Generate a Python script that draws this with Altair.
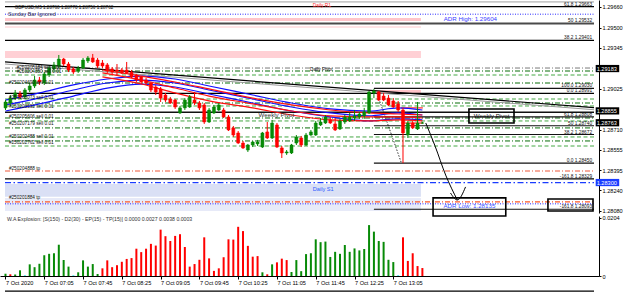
import altair as alt
import pandas as pd

FONT = "Liberation Sans"
GREEN = "#078a07"
RED = "#ff0000"
CYAN = "#00e0e0"

# ---------------- axes / ranges ----------------
X_MIN, X_MAX = -0.1, 121.4          # bar index (bar 0 = 7 Oct 06:25, M5)
BAND_END = 85.7
FIB_START = 76.0
PRICE_MIN, PRICE_MAX = 1.28064, 1.29714
PRICE_TICKS = [1.29660, 1.29500, 1.29345, 1.29025, 1.28710, 1.28555, 1.28395, 1.28240, 1.28080]
TIME_LABEL_BARS = [0, 8, 16, 24, 32, 40, 48, 56, 64, 72, 80]
TIME_LABELS = ["7 Oct 2020", "7 Oct 07:05", "7 Oct 07:45", "7 Oct 08:25", "7 Oct 09:05",
               "7 Oct 09:45", "7 Oct 10:25", "7 Oct 11:05", "7 Oct 11:45", "7 Oct 12:25", "7 Oct 13:05"]
IND_MAX = 0.0211
IND_TICKS = [0, 0.0204]

# ---------------- candles ----------------
OPEN = [1.28878, 1.28916, 1.28954, 1.28986, 1.28963, 1.29017, 1.29048, 1.29094, 1.29071, 1.29133,
        1.29180, 1.29203, 1.29257, 1.29218, 1.29180, 1.29164, 1.29187, 1.29242, 1.29265, 1.29249,
        1.29226, 1.29211, 1.29180, 1.29172, 1.29172, 1.29172, 1.29156, 1.29133, 1.29118, 1.29094,
        1.29071, 1.29040, 1.29025, 1.28978, 1.28947, 1.28939, 1.28839, 1.28878, 1.28885, 1.28939,
        1.28916, 1.28901, 1.28769, 1.28839, 1.28862, 1.28862, 1.28808, 1.28723, 1.28684, 1.28606,
        1.28552, 1.28591, 1.28599, 1.28575, 1.28692, 1.28645, 1.28746, 1.28568, 1.28529, 1.28529,
        1.28606, 1.28645, 1.28591, 1.28668, 1.28668, 1.28746, 1.28761, 1.28785, 1.28754, 1.28715,
        1.28769, 1.28777, 1.28800, 1.28808, 1.28816, 1.28839, 1.28994, 1.29001, 1.28970, 1.28954,
        1.28932, 1.28909, 1.28862, 1.28668, 1.28761, 1.28715, 1.28760]
HIGH = [1.28939, 1.28978, 1.29017, 1.29009, 1.29032, 1.29071, 1.29125, 1.29118, 1.29156, 1.29203,
        1.29234, 1.29288, 1.29265, 1.29234, 1.29195, 1.29203, 1.29265, 1.29280, 1.29296, 1.29265,
        1.29249, 1.29226, 1.29195, 1.29218, 1.29187, 1.29234, 1.29172, 1.29141, 1.29125, 1.29110,
        1.29079, 1.29056, 1.29040, 1.28994, 1.28963, 1.28947, 1.28893, 1.28954, 1.28978, 1.29001,
        1.28932, 1.28916, 1.28878, 1.28901, 1.28916, 1.28878, 1.28823, 1.28738, 1.28699, 1.28622,
        1.28599, 1.28622, 1.28630, 1.28692, 1.28769, 1.28785, 1.28761, 1.28583, 1.28552, 1.28599,
        1.28668, 1.28661, 1.28684, 1.28707, 1.28777, 1.28800, 1.28823, 1.28808, 1.28800, 1.28793,
        1.28823, 1.28839, 1.28862, 1.28847, 1.28878, 1.29009, 1.29025, 1.29009, 1.28994, 1.28978,
        1.28954, 1.28932, 1.28878, 1.28777, 1.28777, 1.28924, 1.28770]
LOW = [1.28862, 1.28893, 1.28939, 1.28947, 1.28947, 1.29001, 1.29032, 1.29056, 1.29056, 1.29118,
       1.29156, 1.29187, 1.29203, 1.29156, 1.29141, 1.29149, 1.29180, 1.29226, 1.29226, 1.29187,
       1.29187, 1.29149, 1.29141, 1.29133, 1.29141, 1.29141, 1.29110, 1.29079, 1.29063, 1.29056,
       1.29001, 1.28978, 1.28924, 1.28924, 1.28909, 1.28870, 1.28831, 1.28862, 1.28878, 1.28901,
       1.28862, 1.28754, 1.28761, 1.28831, 1.28854, 1.28800, 1.28699, 1.28653, 1.28599, 1.28560,
       1.28537, 1.28575, 1.28583, 1.28568, 1.28637, 1.28637, 1.28568, 1.28490, 1.28514, 1.28521,
       1.28591, 1.28575, 1.28583, 1.28661, 1.28661, 1.28738, 1.28754, 1.28754, 1.28699, 1.28707,
       1.28754, 1.28769, 1.28777, 1.28793, 1.28793, 1.28831, 1.28954, 1.28932, 1.28932, 1.28893,
       1.28878, 1.28847, 1.28450, 1.28645, 1.28715, 1.28707, 1.28756]
CLOSE = [1.28924, 1.28954, 1.28994, 1.28963, 1.29017, 1.29048, 1.29094, 1.29079, 1.29141, 1.29187,
         1.29211, 1.29257, 1.29218, 1.29172, 1.29156, 1.29187, 1.29249, 1.29265, 1.29234, 1.29203,
         1.29203, 1.29164, 1.29156, 1.29164, 1.29149, 1.29149, 1.29118, 1.29094, 1.29079, 1.29071,
         1.29017, 1.29001, 1.28954, 1.28939, 1.28916, 1.28885, 1.28878, 1.28939, 1.28963, 1.28916,
         1.28878, 1.28769, 1.28862, 1.28885, 1.28901, 1.28808, 1.28707, 1.28668, 1.28606, 1.28568,
         1.28591, 1.28614, 1.28614, 1.28684, 1.28645, 1.28761, 1.28575, 1.28529, 1.28537, 1.28591,
         1.28653, 1.28591, 1.28668, 1.28692, 1.28761, 1.28769, 1.28808, 1.28761, 1.28707, 1.28777,
         1.28808, 1.28808, 1.28816, 1.28831, 1.28847, 1.29001, 1.29009, 1.28939, 1.28939, 1.28901,
         1.28885, 1.28862, 1.28684, 1.28761, 1.28723, 1.28761, 1.28762]

# ---------------- moving averages (bar index, price) ----------------
BLUE_X = [0, 7, 14, 21, 28, 35, 42, 51, 59, 67, 75, 81, 86]
BLUE_1 = [1.28939, 1.28994, 1.29056, 1.29102, 1.29125, 1.29102, 1.29048, 1.28978, 1.28916, 1.28870, 1.28854, 1.28878, 1.28862]
BLUE_2 = [1.28901, 1.28954, 1.29017, 1.29071, 1.29094, 1.29071, 1.29017, 1.28947, 1.28885, 1.28839, 1.28816, 1.28839, 1.28823]
BLUE_3 = [1.28854, 1.28909, 1.28970, 1.29032, 1.29063, 1.29040, 1.28986, 1.28916, 1.28854, 1.28808, 1.28777, 1.28793, 1.28785]
RED_X = [20, 28, 35, 42, 51, 59, 67, 75, 81, 86]
RED_1 = [1.29172, 1.29125, 1.29079, 1.29025, 1.28954, 1.28901, 1.28862, 1.28839, 1.28831, 1.28823]
RED_2 = [1.29149, 1.29094, 1.29032, 1.28970, 1.28909, 1.28854, 1.28816, 1.28808, 1.28808, 1.28800]
RED_3 = [1.29118, 1.29063, 1.28994, 1.28932, 1.28878, 1.28823, 1.28785, 1.28777, 1.28785, 1.28777]

# ---------------- indicator ----------------
IND_VALUES = [0.0008, 0.0006, 0.0005, 0.0020, 0.0002, 0.0041, 0.0031, 0.0043, 0.0073, 0.0078,
              0.0080, 0.0110, 0.0056, 0.0033, 0.0002, 0.0013, 0.0055, 0.0033, 0.0042, 0.0007,
              0.0027, 0.0055, 0.0031, 0.0038, 0.0050, 0.0060, 0.0063, 0.0096, 0.0084, 0.0096,
              0.0113, 0.0107, 0.0163, 0.0140, 0.0123, 0.0141, 0.0147, 0.0102, 0.0033, 0.0042,
              0.0057, 0.0136, 0.0062, 0.0018, 0.0027, 0.0066, 0.0129, 0.0128, 0.0173, 0.0158,
              0.0106, 0.0068, 0.0070, 0.0013, 0.0006, 0.0041, 0.0048, 0.0061, 0.0056, 0.0014,
              0.0056, 0.0017, 0.0077, 0.0080, 0.0129, 0.0119, 0.0121, 0.0067, 0.0085, 0.0078,
              0.0109, 0.0085, 0.0097, 0.0090, 0.0095, 0.0179, 0.0156, 0.0123, 0.0120, 0.0057,
              0.0049, 0.0002, 0.0136, 0.0053, 0.0080, 0.0035, 0.0028]
IND_SIGN = list("grggcgggggggggcggggg" + "rrrrrrrrrrrrrrrrrrrr" + "rrrrrrrrrrrrrgrgrrrg" +
                "ggggggggggggggggggggg" + "c" + "rrrrr")

# ---------------- horizontal levels ----------------
TOP_GRAY = [1.29699]
BLACK_FULL = [1.29663, 1.29401, 1.28991, 1.28329]
DARK_THICK = [1.29532]
WEEKLY_PIVOT = [1.28845]
FIB2_LEVELS = [1.29030, 1.28808, 1.28740, 1.28672, 1.28450, 1.28093]
ADR_LEVELS = [1.29604, 1.28135]
PIVOT_GRAY = [1.29187]
GREEN_DASHDOT = [1.29164, 1.29071, 1.28916, 1.28800, 1.28723, 1.28622]
GREEN_DASH = [1.29133, 1.28947, 1.28893, 1.28777, 1.28653, 1.28583]
SALMON = [1.28390]
ORANGE = [1.28150]
S1_BLUE = [1.28300]
RED_SHORT = [1.28878, 1.28761]

BAND_TOP = [1.29575, 1.29513, 1.29319, 1.29017, 1.28289, 1.28181]
BAND_BOTTOM = [1.29552, 1.29497, 1.29265, 1.28994, 1.28189, 1.28080]
BAND_X0 = [X_MIN, X_MIN, X_MIN, FIB_START, X_MIN, X_MIN]
BAND_COLOR = ["#ffc4c9", "#ffe3e5", "#ffd0d5", "#ffc4c9", "#dae0f5", "#e7eaf8"]

TREND_X0 = [X_MIN, X_MIN, 76.6]
TREND_Y0 = [1.29234, 1.29218, 1.28994]
TREND_X1 = [X_MAX, X_MAX, 81.6]
TREND_Y1 = [1.28880, 1.28864, 1.28459]

ARROW_X = [86.7, 88.6, 90.8, 93.2]
ARROW_Y = [1.28761, 1.28584, 1.28358, 1.28165]
HEAD_X = [91.8, 93.2, 94.9]
HEAD_Y = [1.28219, 1.28165, 1.28266]

# ---------------- texts ----------------
ORDER_LABELS = ["#250205184 sell 0.01", "#250204350 sell 0.01", "#250204690 sell 0.01",
                "#250205073 sell 0.01", "#250203592 sell 0.01", "#250205606 sell 0.01",
                "#250207179 sell 0.01", "#250202488 sell 0.01", "#250202762 sell 0.01",
                "#250204888 tp", "#250201884 tp"]
ORDER_X = [2.3, 2.3, 0.7, 0.7, 0.7, 0.7, 0.7, 0.7, 0.7, 0.7, 0.7]
ORDER_Y = [1.29190, 1.29158, 1.29073, 1.28956, 1.28887, 1.28810, 1.28756, 1.28655, 1.28608, 1.28407, 1.28183]

FIB_TEXT = ["61.8 1.29663", "50 1.29532", "38.2 1.29401", "100.0 1.29030", "0.0 1.28991",
            "61.8 1.28808", "50 1.28740", "38.2 1.28672", "0.0 1.28450", "-161.8 1.28329", "-161.8 1.28093"]
FIB_Y = [1.29663, 1.29532, 1.29401, 1.29030, 1.28991, 1.28808, 1.28740, 1.28672, 1.28450, 1.28329, 1.28093]

AXBOX_PRICE = [1.29183, 1.28855, 1.28763, 1.28300]
AXBOX_TEXT = ["1.29183", "1.28855", "1.28763", "1.28300"]
AXBOX_FILL = ["#000000", "#000000", "#000000", "#1a3cff"]

BOX_X0 = [95.6, 88.2, 111.9]
BOX_X1 = [104.9, 103.2, 121.2]
BOX_Y0 = [1.28870, 1.28181, 1.28173]
BOX_Y1 = [1.28761, 1.28041, 1.28080]

IND_TITLE = "W.A Explosion: [S(150) - D2(30) - EP(15) - TP(15)] 0.0000 0.0027 0.0038 0.0003"

# ================= build =================
XS = alt.Scale(domain=[X_MIN, X_MAX], nice=False, zero=False)
YS = alt.Scale(domain=[PRICE_MIN, PRICE_MAX], nice=False, zero=False)
YAX = alt.Axis(orient="right", values=PRICE_TICKS, format=".5f", title=None, grid=False,
               labelFont=FONT, labelFontSize=5.6, labelColor="#000000", tickColor="#000000",
               tickSize=2, domainColor="#000000", labelPadding=1, labelOverlap=False,
               labelFlush=False, labelBound=False)


def X(f="x"):
    return alt.X(f"{f}:Q", scale=XS, axis=None)


def Y(f="y"):
    return alt.Y(f"{f}:Q", scale=YS, axis=YAX)


def hrule(levels, x0, x1, color, width=1.0, dash=None):
    d = pd.DataFrame({"y": levels, "x": [x0] * len(levels), "x2": [x1] * len(levels)})
    kw = dict(color=color, strokeWidth=width)
    if dash:
        kw["strokeDash"] = dash
    return alt.Chart(d).mark_rule(**kw).encode(x=X("x"), x2="x2", y=Y("y"))


def texts(xs, ys, labels, color, size, align="left", baseline="middle"):
    d = pd.DataFrame({"x": xs, "y": ys, "t": labels})
    return alt.Chart(d).mark_text(align=align, baseline=baseline, color=color, fontSize=size,
                                  font=FONT).encode(x=X("x"), y=Y("y"), text="t:N")


layers = []

bands = pd.DataFrame({"x": BAND_X0, "x2": [BAND_END] * len(BAND_X0), "y": BAND_TOP,
                      "y2": BAND_BOTTOM, "c": BAND_COLOR})
layers.append(alt.Chart(bands).mark_rect().encode(
    x=X("x"), x2="x2", y=Y("y"), y2="y2", fill=alt.Fill("c:N", scale=None)))

layers += [
    hrule(TOP_GRAY, X_MIN, X_MAX, "#a0a0a0", 1),
    hrule(ADR_LEVELS, X_MIN, X_MAX, "#2a2aff", 1, [1, 1.5]),
    hrule(PIVOT_GRAY, X_MIN, X_MAX, "#7a7a7a", 1, [5, 2, 1, 2]),
    hrule(GREEN_DASHDOT, X_MIN, X_MAX, "#0a6e0a", 1, [5, 2, 1, 2]),
    hrule(GREEN_DASH, X_MIN, X_MAX, "#45a845", 1, [4, 2.5]),
    hrule(SALMON, X_MIN, X_MAX, "#f4907c", 1.5, [5, 2, 1, 2]),
    hrule(ORANGE, X_MIN, X_MAX, "#ff5a28", 1.2, [5, 2, 1, 2]),
    hrule(S1_BLUE, X_MIN, X_MAX, "#1a3cff", 1.2, [6, 2.5, 1.5, 2.5]),
    hrule(BLACK_FULL, X_MIN, X_MAX, "#000000", 1.2),
    hrule(DARK_THICK, X_MIN, X_MAX, "#4a4a4a", 1.8),
    hrule(WEEKLY_PIVOT, X_MIN, X_MAX, "#111111", 1.5),
    hrule(FIB2_LEVELS, FIB_START, X_MAX, "#111111", 1.2),
    hrule(RED_SHORT, 81.6, 86.1, RED, 1),
]

trend = pd.DataFrame({"x": TREND_X0, "y": TREND_Y0, "x2": TREND_X1, "y2": TREND_Y1,
                      "c": ["#000000", "#9a9a9a", "#000000"], "w": [1.2, 1.0, 0.8]})
layers.append(alt.Chart(trend.iloc[:2]).mark_rule().encode(
    x=X("x"), y=Y("y"), x2="x2", y2="y2", color=alt.Color("c:N", scale=None),
    strokeWidth=alt.StrokeWidth("w:Q", scale=None)))
layers.append(alt.Chart(trend.iloc[2:]).mark_rule(color="#000000", strokeWidth=0.8,
                                                  strokeDash=[1.5, 1.5]).encode(
    x=X("x"), y=Y("y"), x2="x2", y2="y2"))

# moving averages
ma_rows = []
for name, xs, ys, col in [("b1", BLUE_X, BLUE_1, "#1010ff"), ("b2", BLUE_X, BLUE_2, "#1010ff"),
                          ("b3", BLUE_X, BLUE_3, "#1010ff"), ("r1", RED_X, RED_1, "#ff1010"),
                          ("r2", RED_X, RED_2, "#ff1010"), ("r3", RED_X, RED_3, "#ff1010")]:
    for xv, yv in zip(xs, ys):
        ma_rows.append({"x": xv, "y": yv, "s": name, "c": col})
ma = pd.DataFrame(ma_rows)
layers.append(alt.Chart(ma).mark_line(strokeWidth=1.2, interpolate="monotone").encode(
    x=X("x"), y=Y("y"), detail="s:N", order="x:Q", color=alt.Color("c:N", scale=None)))

# candles
cd = pd.DataFrame({"x": list(range(len(OPEN))), "o": OPEN, "h": HIGH, "l": LOW, "cl": CLOSE})
cd["c"] = [GREEN if c >= o else RED for o, c in zip(OPEN, CLOSE)]
layers.append(alt.Chart(cd).mark_rule(strokeWidth=1).encode(
    x=X("x"), y=Y("l"), y2="h", color=alt.Color("c:N", scale=None)))
layers.append(alt.Chart(cd).mark_bar(size=3, strokeWidth=0.5).encode(
    x=X("x"), y=Y("o"), y2="cl", fill=alt.Fill("c:N", scale=None),
    stroke=alt.Stroke("c:N", scale=None)))

# arrow
arr = pd.DataFrame({"x": ARROW_X + HEAD_X, "y": ARROW_Y + HEAD_Y,
                    "s": ["a"] * len(ARROW_X) + ["h"] * len(HEAD_X),
                    "k": list(range(len(ARROW_X))) + list(range(len(HEAD_X)))})
layers.append(alt.Chart(arr).mark_line(color="#000000", strokeWidth=1, interpolate="monotone").encode(
    x=X("x"), y=Y("y"), detail="s:N", order="k:Q"))

# boxes
boxes = pd.DataFrame({"x": BOX_X0, "x2": BOX_X1, "y": BOX_Y0, "y2": BOX_Y1})
layers.append(alt.Chart(boxes).mark_rect(fill="#ffffff", fillOpacity=0, stroke="#000000",
                                         strokeWidth=1.6).encode(
    x=X("x"), x2="x2", y=Y("y"), y2="y2"))

# texts
layers += [
    texts([1.9], [1.29650], ["GBPUSD,M5  1.28760 1.28770 1.28756 1.28762"], "#111111", 4.6),
    texts([0.5], [1.29604], ["Sunday Bar Ignored"], "#333355", 5.4),
    texts([63.4], [1.29665], ["Daily R1"], "#ff3030", 4.8),
    texts([90.4], [1.29570], ["ADR High: 1.29604"], "#3a3aff", 6.2),
    texts([62.8], [1.29172], ["Daily Pivot"], "#111111", 4.8),
    texts([52.2], [1.28823], ["Weekly Pivot"], "#333333", 6.2),
    texts([96.6], [1.28815], ["Weekly Pivot"], "#111111", 6.2),
    texts([63.4], [1.28250], ["Daily S1"], "#2a5cff", 5.6),
    texts([95.7], [1.28118], ["ADR Low: 1.28135"], "#3a50ff", 6.2, align="center"),
    texts(ORDER_X, ORDER_Y, ORDER_LABELS, "#111111", 4.7),
    texts([121.0] * len(FIB_Y), FIB_Y, FIB_TEXT, "#111111", 4.8, align="right", baseline="bottom"),
]

axb = pd.DataFrame({"p": AXBOX_PRICE, "t": AXBOX_TEXT, "c": AXBOX_FILL,
                    "x": [121.75] * 4, "x2": [126.6] * 4})
axb["y"] = axb["p"] + 0.00028
axb["y2"] = axb["p"] - 0.00028
layers.append(alt.Chart(axb).mark_rect().encode(
    x=X("x"), x2="x2", y=Y("y"), y2="y2", fill=alt.Fill("c:N", scale=None)))
layers.append(alt.Chart(axb).mark_text(align="left", baseline="middle", color="#ffffff",
                                       fontSize=5.6, font=FONT, dx=1).encode(
    x=X("x"), y=Y("p"), text="t:N"))

main = alt.layer(*layers).properties(width=599, height=213)

# ---------------- indicator pane ----------------
IS = alt.Scale(domain=[0, IND_MAX], nice=False, zero=False)
label_arr = "[" + ",".join("'" + t + "'" for t in TIME_LABELS) + "]"
XAX = alt.Axis(values=TIME_LABEL_BARS, labelExpr=label_arr + "[round(datum.value/8)]",
               labelAlign="left", labelFont=FONT, labelFontSize=5.6, labelColor="#000000",
               tickColor="#000000", tickSize=3, domainColor="#000000", grid=False, title=None,
               labelPadding=1, labelOverlap=False, labelFlush=False, labelBound=False, labelBaseline="top")
IAX = alt.Axis(orient="right", values=IND_TICKS,
               labelExpr="datum.value == 0 ? '0' : '0.0204'", title=None, grid=False,
               labelFont=FONT, labelFontSize=5.6, labelColor="#000000", tickColor="#000000",
               tickSize=2, domainColor="#000000", labelPadding=1, labelOverlap=False,
               labelFlush=False, labelBound=False)


def IX(f="x"):
    return alt.X(f"{f}:Q", scale=XS, axis=XAX)


def IY(f="y"):
    return alt.Y(f"{f}:Q", scale=IS, axis=IAX)


cmap = {"g": GREEN, "r": RED, "c": CYAN}
ind = pd.DataFrame({"x": list(range(len(IND_VALUES))), "y": IND_VALUES,
                    "c": [cmap[s] for s in IND_SIGN]})
ind_bars = alt.Chart(ind).mark_bar(size=2).encode(
    x=IX("x"), y=IY("y"), fill=alt.Fill("c:N", scale=None))
ind_title = alt.Chart(pd.DataFrame({"x": [0.3], "y": [0.0200], "t": [IND_TITLE]})).mark_text(
    align="left", baseline="middle", color="#333333", fontSize=5.2, font=FONT).encode(
    x=IX("x"), y=IY("y"), text="t:N")
tab_line = alt.Chart(pd.DataFrame({"x": [X_MIN], "x2": [X_MAX], "y": [-0.0053]})).mark_rule(
    color="#000000", strokeWidth=1.2).encode(x=IX("x"), x2="x2", y=IY("y"))

indicator = alt.layer(ind_bars, ind_title, tab_line).properties(width=599, height=60)

chart = alt.vconcat(main, indicator, spacing=3, bounds="flush").properties(
    padding={"left": 0, "top": 0, "right": 0, "bottom": 0}, background="#ffffff"
).configure_view(stroke=None)

chart.save("out.html", embed_options={"renderer": "svg", "actions": False})
